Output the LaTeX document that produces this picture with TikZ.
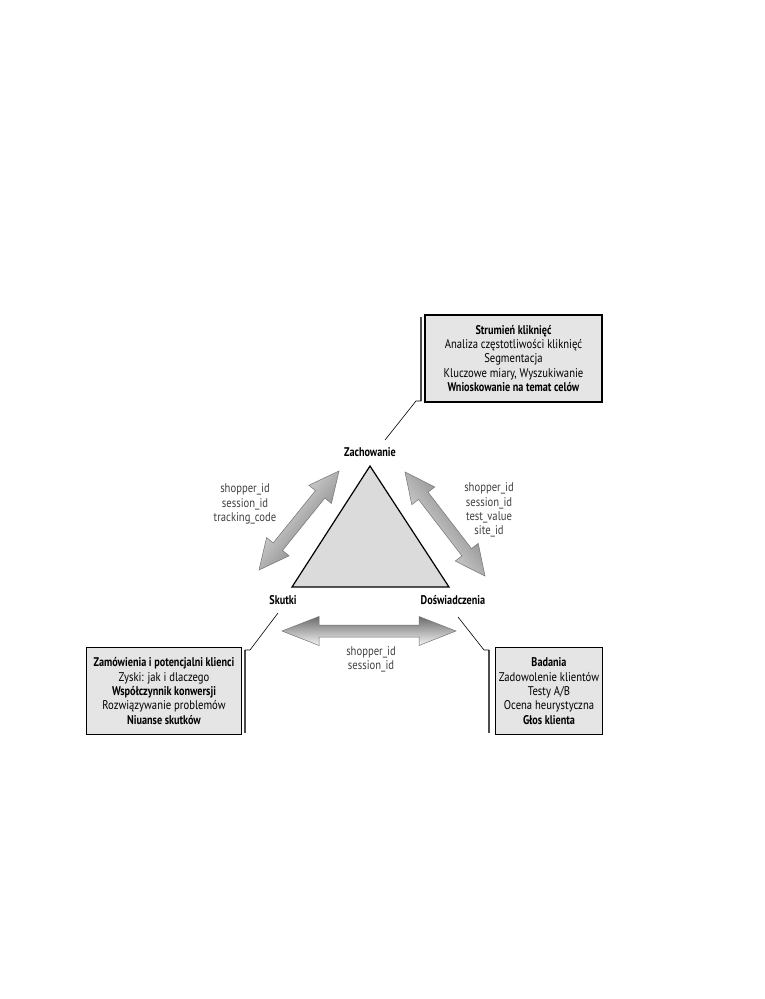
\documentclass[tikz,border=0pt]{standalone}
\usepackage{fontspec}
\setmainfont{PT Sans}[FakeStretch=0.845, BoldFeatures={FakeStretch=0.81}]
\usetikzlibrary{calc}
\definecolor{adark}{gray}{0.42}
\definecolor{alight}{gray}{0.96}
\definecolor{boxgray}{gray}{0.9}
\definecolor{trigray}{gray}{0.86}
\definecolor{txtgray}{gray}{0.25}
\newcommand\dblshadearrow[4]{%
  \path[arrowshape, shading angle=#4]
    (#1) -- ($(#1)!#3!(#2)!14.5pt!90:(#2)$) -- ($(#1)!#3!(#2)!6pt!90:(#2)$)
    -- ($(#2)!#3!(#1)!6pt!-90:(#1)$) -- ($(#2)!#3!(#1)!14.5pt!-90:(#1)$)
    -- (#2) -- ($(#2)!#3!(#1)!14.5pt!90:(#1)$) -- ($(#2)!#3!(#1)!6pt!90:(#1)$)
    -- ($(#1)!#3!(#2)!6pt!-90:(#2)$) -- ($(#1)!#3!(#2)!14.5pt!-90:(#2)$) -- cycle;}
\tikzset{
  infobox/.style={draw=black, line width=1.4pt, fill=boxgray, minimum width=#1,
    minimum height=87pt, inner sep=0pt, align=center,
    font=\fontsize{12.6}{14.4}\selectfont},
  cornerlabel/.style={font=\fontsize{12.6}{14}\selectfont\bfseries, inner sep=2pt},
  idlabel/.style={align=center, text=txtgray, font=\fontsize{12.6}{14.2}\selectfont, inner sep=0pt},
  bracketline/.style={draw=black!70, line width=1.3pt},
  leaderline/.style={draw=black, line width=0.6pt},
  arrowshape/.style={left color=alight, right color=adark, draw=black!55, line width=0.5pt},
  triangleshape/.style={fill=trigray, draw=black, line width=1.2pt, line join=miter}
}
\begin{document}
\begin{tikzpicture}[x=1pt,y=-1pt]
\useasboundingbox (0,0) rectangle (765,999);
\fill[white] (0,0) rectangle (765,999);

% triangle
\coordinate (apex) at (370,466);
\coordinate (bl) at (292,587);
\coordinate (br) at (449,587);
\path[triangleshape] (apex) -- (br) -- (bl) -- cycle;

% corner labels
\node[cornerlabel] (zach) at (370,452) {Zachowanie};
\node[cornerlabel] (skut) at (283,600) {Skutki};
\node[cornerlabel] (dosw) at (453,600) {Doświadczenia};

% arrows
\coordinate (la1) at (259,570);
\coordinate (la2) at (339,471);
\coordinate (ra1) at (405,472);
\coordinate (ra2) at (485,576);
\coordinate (ha1) at (282,631);
\coordinate (ha2) at (456,631);
\dblshadearrow{la1}{la2}{30pt}{51}
\dblshadearrow{ra1}{ra2}{30pt}{127.5}
\dblshadearrow{ha1}{ha2}{37pt}{180}

% id labels
\node[idlabel] (lids) at (245,504) {shopper\_id\\session\_id\\tracking\_code};
\node[idlabel] (rids) at (489,510) {shopper\_id\\session\_id\\test\_value\\site\_id};
\node[idlabel] (hids) at (371,659) {shopper\_id\\session\_id};

% boxes
\node[infobox=177pt] (topbox) at (513.5,358.5) {\textbf{Strumień kliknięć}\\Analiza częstotliwości kliknięć\\Segmentacja\\Kluczowe miary, Wyszukiwanie\\\textbf{Wnioskowanie na temat celów}};
\node[infobox=155pt] (lbox) at (164,691) {\textbf{Zamówienia i potencjalni klienci}\\Zyski: jak i dlaczego\\\textbf{Współczynnik konwersji}\\Rozwiązywanie problemów\\\textbf{Niuanse skutków}};
\node[infobox=107pt] (rbox) at (549,691) {\textbf{Badania}\\Zadowolenie klientów\\Testy A/B\\Ocena heurystyczna\\\textbf{Głos klienta}};

% brackets and leaders
\coordinate (tb1) at (421,317);
\coordinate (tb2) at (421,401);
\coordinate (tb3) at (416,401);
\path[bracketline] (tb1) -- (tb2);
\path[leaderline] (tb2) -- (tb3) -- (385,440) coordinate (tbend);

\coordinate (lb1) at (245,733);
\coordinate (lb2) at (245,650);
\coordinate (lb3) at (250,650);
\path[bracketline] (lb1) -- (lb2);
\path[leaderline] (lb2) -- (lb3) -- (278,613) coordinate (lbend);

\coordinate (rb1) at (489,733);
\coordinate (rb2) at (489,650);
\coordinate (rb3) at (484,650);
\path[bracketline] (rb1) -- (rb2);
\path[leaderline] (rb2) -- (rb3) -- (458,617) coordinate (rbend);
\end{tikzpicture}
\end{document}
